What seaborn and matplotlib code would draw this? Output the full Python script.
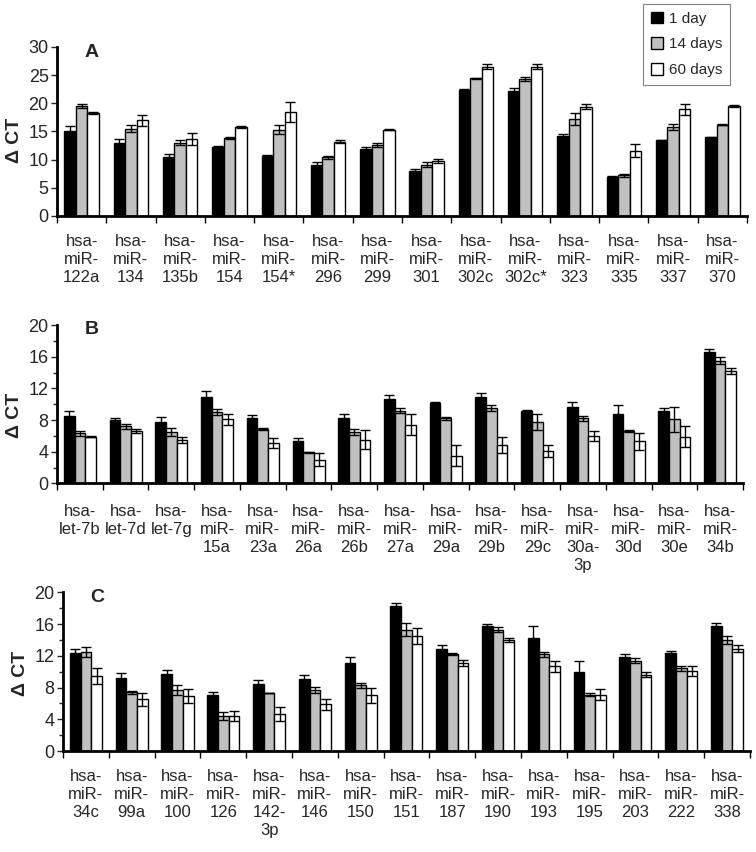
import numpy as np
import pandas as pd
import matplotlib
matplotlib.use("Agg")
import matplotlib.pyplot as plt
from matplotlib.patches import Patch
from matplotlib.ticker import MultipleLocator, FixedLocator
import seaborn as sns

# --- data ---
times = ["1 day", "14 days", "60 days"]
colors = ["black", "#C0C0C0", "white"]

a_labels = ["hsa-\nmiR-\n122a", "hsa-\nmiR-\n134", "hsa-\nmiR-\n135b", "hsa-\nmiR-\n154",
            "hsa-\nmiR-\n154*", "hsa-\nmiR-\n296", "hsa-\nmiR-\n299", "hsa-\nmiR-\n301",
            "hsa-\nmiR-\n302c", "hsa-\nmiR-\n302c*", "hsa-\nmiR-\n323", "hsa-\nmiR-\n335",
            "hsa-\nmiR-\n337", "hsa-\nmiR-\n370"]
a_day1 = [15.1, 13.0, 10.4, 12.3, 10.7, 9.1, 11.8, 8.0, 22.3, 22.2, 14.2, 7.0, 13.4, 14.0]
a_day1_err = [0.8, 0.7, 0.6, 0.1, 0.1, 0.4, 0.4, 0.4, 0.3, 0.6, 0.3, 0.1, 0.1, 0.1]
a_day14 = [19.5, 15.5, 13.0, 13.8, 15.3, 10.4, 12.6, 9.1, 24.4, 24.3, 17.2, 7.2, 15.8, 16.2]
a_day14_err = [0.4, 0.6, 0.4, 0.2, 0.8, 0.2, 0.4, 0.4, 0.1, 0.4, 1.1, 0.3, 0.5, 0.1]
a_day60 = [18.3, 17.0, 13.7, 15.8, 18.5, 13.2, 15.3, 9.8, 26.5, 26.5, 19.4, 11.6, 18.9, 19.5]
a_day60_err = [0.2, 1.0, 1.1, 0.1, 1.8, 0.3, 0.1, 0.4, 0.4, 0.4, 0.4, 1.1, 0.9, 0.2]

b_labels = ["hsa-\nlet-7b", "hsa-\nlet-7d", "hsa-\nlet-7g", "hsa-\nmiR-\n15a", "hsa-\nmiR-\n23a",
            "hsa-\nmiR-\n26a", "hsa-\nmiR-\n26b", "hsa-\nmiR-\n27a", "hsa-\nmiR-\n29a",
            "hsa-\nmiR-\n29b", "hsa-\nmiR-\n29c", "hsa-\nmiR-\n30a-\n3p", "hsa-\nmiR-\n30d",
            "hsa-\nmiR-\n30e", "hsa-\nmiR-\n34b"]
b_day1 = [8.5, 8.0, 7.8, 10.9, 8.3, 5.3, 8.3, 10.7, 10.1, 10.9, 9.1, 9.7, 8.8, 9.2, 16.6]
b_day1_err = [0.7, 0.3, 0.6, 0.8, 0.3, 0.4, 0.4, 0.5, 0.2, 0.5, 0.2, 0.6, 1.1, 0.3, 0.4]
b_day14 = [6.3, 7.2, 6.5, 9.0, 6.9, 3.9, 6.5, 9.2, 8.2, 9.5, 7.8, 8.2, 6.6, 8.1, 15.5]
b_day14_err = [0.3, 0.3, 0.5, 0.4, 0.1, 0.1, 0.4, 0.3, 0.2, 0.4, 1.0, 0.3, 0.1, 1.6, 0.4]
b_day60 = [5.9, 6.6, 5.5, 8.1, 5.1, 3.0, 5.5, 7.4, 3.5, 4.8, 4.1, 6.0, 5.3, 5.9, 14.2]
b_day60_err = [0.1, 0.3, 0.4, 0.7, 0.6, 0.8, 1.2, 1.3, 1.3, 1.0, 0.8, 0.6, 1.1, 1.3, 0.4]

c_labels = ["hsa-\nmiR-\n34c", "hsa-\nmiR-\n99a", "hsa-\nmiR-\n100", "hsa-\nmiR-\n126",
            "hsa-\nmiR-\n142-\n3p", "hsa-\nmiR-\n146", "hsa-\nmiR-\n150", "hsa-\nmiR-\n151",
            "hsa-\nmiR-\n187", "hsa-\nmiR-\n190", "hsa-\nmiR-\n193", "hsa-\nmiR-\n195",
            "hsa-\nmiR-\n203", "hsa-\nmiR-\n222", "hsa-\nmiR-\n338"]
c_day1 = [12.3, 9.2, 9.7, 7.0, 8.4, 9.1, 11.1, 18.3, 12.8, 15.8, 14.2, 10.0, 11.9, 12.3, 15.8]
c_day1_err = [0.5, 0.6, 0.5, 0.5, 0.5, 0.5, 0.7, 0.3, 0.5, 0.2, 1.5, 1.3, 0.3, 0.3, 0.3]
c_day14 = [12.5, 7.4, 7.7, 4.4, 7.3, 7.7, 8.3, 15.3, 12.2, 15.3, 12.2, 7.1, 11.4, 10.4, 14.0]
c_day14_err = [0.6, 0.2, 0.6, 0.5, 0.05, 0.4, 0.3, 0.8, 0.1, 0.3, 0.3, 0.2, 0.3, 0.3, 0.5]
c_day60 = [9.4, 6.5, 6.9, 4.4, 4.7, 5.9, 7.0, 14.5, 11.1, 14.0, 10.7, 7.1, 9.6, 10.1, 12.9]
c_day60_err = [1.0, 0.8, 0.9, 0.6, 0.9, 0.7, 1.0, 1.0, 0.4, 0.3, 0.7, 0.7, 0.3, 0.6, 0.4]

sns.set_style("ticks")
plt.rcParams["font.family"] = ["Liberation Sans", "DejaVu Sans"]


def draw_panel(ax, labels, vals, errs, letter, ymax, major, minor, pad, ylab_y):
    df = pd.DataFrame({
        "mirna": np.tile(labels, 3),
        "time": np.repeat(times, len(labels)),
        "value": np.concatenate(vals),
    })
    sns.barplot(data=df, x="mirna", y="value", hue="time", order=labels, hue_order=times,
                palette=colors, edgecolor="black", linewidth=1, width=0.7,
                errorbar=None, legend=False, ax=ax)
    # error bars on top of each bar
    for cont, err in zip(ax.containers, errs):
        xs = [p.get_x() + p.get_width() / 2 for p in cont.patches]
        ys = [p.get_height() for p in cont.patches]
        ax.errorbar(xs, ys, yerr=err, fmt="none", ecolor="black", elinewidth=1,
                    capsize=3.5, capthick=1, zorder=5)

    n = len(labels)
    ax.set_xlim(-0.5, n - 0.5)
    ax.set_ylim(0, ymax)
    ax.yaxis.set_major_locator(MultipleLocator(major))
    if minor:
        ax.yaxis.set_minor_locator(MultipleLocator(minor))
    ax.xaxis.set_minor_locator(FixedLocator(np.arange(n + 1) - 0.5))
    ax.tick_params(axis="x", which="major", length=0, pad=pad, labelsize=12)
    ax.tick_params(axis="x", which="minor", length=5, width=1, direction="out", color="black")
    ax.tick_params(axis="y", which="major", length=4, width=1, labelsize=13, pad=2)
    ax.tick_params(axis="y", which="minor", length=3, width=1)
    for t in ax.get_xticklabels():
        t.set_linespacing(1.25)
        t.set_multialignment("center")
    ax.set_xlabel("")
    ax.set_ylabel("Δ CT", fontsize=14, fontweight="bold")
    ax.yaxis.set_label_coords(-0.05, ylab_y)
    sns.despine(ax=ax)
    for s in ["left", "bottom"]:
        ax.spines[s].set_linewidth(2)
        ax.spines[s].set_color("black")
    ax.text(0.05, 0.97, letter, transform=ax.transAxes, fontsize=14, fontweight="bold",
            ha="center", va="center")


fig = plt.figure(figsize=(7.56, 8.52), dpi=100)
ax_a = fig.add_axes([0.0754, 0.7465, 0.9127, 0.1984])
ax_b = fig.add_axes([0.0754, 0.4327, 0.9074, 0.1858])
ax_c = fig.add_axes([0.0833, 0.1185, 0.9087, 0.1863])

draw_panel(ax_a, a_labels, [a_day1, a_day14, a_day60],
           [a_day1_err, a_day14_err, a_day60_err], "A", 30, 5, None, 13, 0.45)
draw_panel(ax_b, b_labels, [b_day1, b_day14, b_day60],
           [b_day1_err, b_day14_err, b_day60_err], "B", 20, 4, 2, 15, 0.43)
draw_panel(ax_c, c_labels, [c_day1, c_day14, c_day60],
           [c_day1_err, c_day14_err, c_day60_err], "C", 20, 4, 2, 13, 0.49)

handles = [Patch(facecolor=c, edgecolor="black", linewidth=1) for c in colors]
leg = fig.legend(handles, times, loc="upper right", bbox_to_anchor=(730 / 756, 1 - 4 / 852),
                 borderaxespad=0, fontsize=11, handlelength=0.8, handleheight=0.8,
                 handletextpad=0.4, labelspacing=0.75, borderpad=0.5, fancybox=False,
                 framealpha=1)
leg.get_frame().set_edgecolor("0.5")
leg.get_frame().set_linewidth(0.8)

fig.savefig("out.png", dpi=100)
